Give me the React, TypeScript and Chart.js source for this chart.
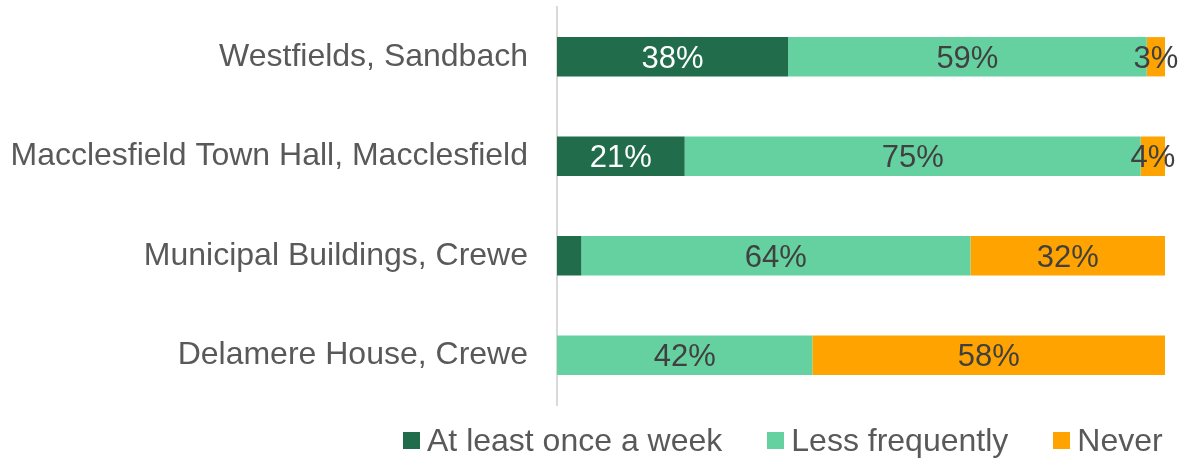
import React, { useEffect, useRef } from "react";
import { Chart, registerables } from "chart.js";

Chart.register(...registerables);

const categories = [
  "Westfields, Sandbach",
  "Macclesfield Town Hall, Macclesfield",
  "Municipal Buildings, Crewe",
  "Delamere House, Crewe",
];
const seriesNames = ["At least once a week", "Less frequently", "Never"];
const weekly = [38, 21, 4, 0];
const lessFrequently = [59, 75, 64, 42];
const never = [3, 4, 32, 58];
const weeklyLabelShown = [true, true, false, false];

const colors = ["#216D4B", "#66D1A0", "#FFA300"];
const labelColors = ["#FFFFFF", "#404040", "#404040"];
const FONT = "'Liberation Sans', Arial, sans-serif";

const barLabels = {
  id: "barLabels",
  afterDatasetsDraw(chart: any) {
    const ctx = chart.ctx;
    ctx.save();
    ctx.font = `31px ${FONT}`;
    ctx.textAlign = "center";
    ctx.textBaseline = "alphabetic";
    chart.data.datasets.forEach((ds: any, di: number) => {
      const meta = chart.getDatasetMeta(di);
      if (meta.hidden) return;
      meta.data.forEach((el: any, i: number) => {
        const v = ds.data[i];
        if (!v) return;
        if (di === 0 && !weeklyLabelShown[i]) return;
        const { x, y, base } = el.getProps(["x", "y", "base"], true);
        ctx.fillStyle = labelColors[di];
        ctx.fillText(`${v}%`, (x + base) / 2, y + 11);
      });
    });
    ctx.restore();
  },
};

export default function App() {
  const ref = useRef<HTMLCanvasElement | null>(null);

  useEffect(() => {
    document.body.style.margin = "0";
    const canvas = ref.current;
    if (!canvas) return;
    const chart = new Chart(canvas, {
      type: "bar",
      data: {
        labels: categories,
        datasets: [
          { label: seriesNames[0], data: weekly, backgroundColor: colors[0] },
          { label: seriesNames[1], data: lessFrequently, backgroundColor: colors[1] },
          { label: seriesNames[2], data: never, backgroundColor: colors[2] },
        ],
      },
      options: {
        indexAxis: "y",
        responsive: false,
        animation: false,
        layout: { padding: { top: 7, right: 21, bottom: 53, left: 0 } },
        datasets: { bar: { categoryPercentage: 1, barPercentage: 0.395 } },
        scales: {
          x: { stacked: true, min: 0, max: 100, display: false },
          y: {
            stacked: true,
            grid: { display: false, drawTicks: false },
            border: { display: true, color: "#D9D9D9", width: 2 },
            ticks: { color: "#595959", font: { size: 32, family: FONT }, padding: 29 },
            afterFit: (scale: any) => {
              scale.width = 557;
              scale.paddingTop = 0;
              scale.paddingBottom = 0;
            },
          },
        },
        plugins: {
          legend: { display: false },
          tooltip: { enabled: false },
        },
      },
      plugins: [barLabels],
    });
    return () => chart.destroy();
  }, []);

  return (
    <div style={{ position: "relative", width: 1186, height: 458, overflow: "hidden" }}>
      <canvas ref={ref} width={1186} height={458} style={{ display: "block" }} />
      <div
        style={{
          position: "absolute",
          left: 403,
          top: 424,
          display: "flex",
          alignItems: "center",
          fontFamily: FONT,
          fontSize: 32,
          lineHeight: "32px",
          color: "#595959",
          whiteSpace: "nowrap",
        }}
      >
        {seriesNames.map((name, i) => (
          <div key={name} style={{ display: "flex", alignItems: "center", marginRight: i < seriesNames.length - 1 ? 45 : 0 }}>
            <span style={{ display: "inline-block", width: 17, height: 17, background: colors[i], marginRight: 7 }} />
            <span>{name}</span>
          </div>
        ))}
      </div>
    </div>
  );
}
